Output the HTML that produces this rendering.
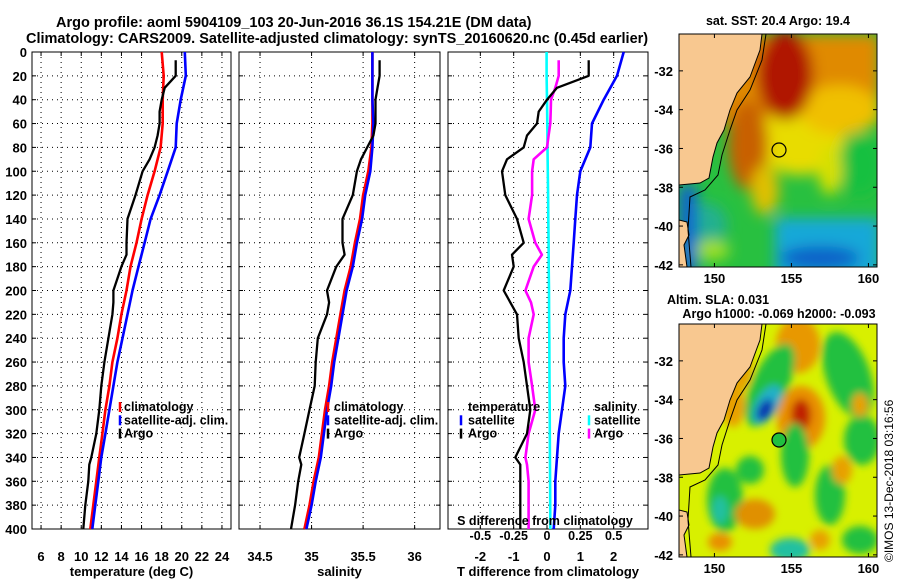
<!DOCTYPE html>
<html><head><meta charset="utf-8"><style>
html,body{margin:0;padding:0;background:#fff;}
svg{display:block;font-family:"Liberation Sans",sans-serif;font-weight:bold;}
</style></head><body>
<svg id="chart" width="900" height="580" viewBox="0 0 900 580" xmlns="http://www.w3.org/2000/svg">
<defs>
<filter id="blur" x="-50%" y="-50%" width="200%" height="200%"><feGaussianBlur stdDeviation="7"/></filter>
<filter id="blur2" x="-50%" y="-50%" width="200%" height="200%"><feGaussianBlur stdDeviation="4"/></filter>
<clipPath id="clipMap1"><rect x="679" y="34" width="198" height="233"/></clipPath>
<clipPath id="clipMap2"><rect x="679" y="324" width="198" height="233"/></clipPath>
</defs>
<text x="56" y="27" font-size="14.5">Argo profile: aoml 5904109_103 20-Jun-2016 36.1S 154.21E (DM data)</text>
<text x="26" y="43" font-size="14.5">Climatology: CARS2009. Satellite-adjusted climatology: synTS_20160620.nc (0.45d earlier)</text>

<g id="panels"></g>

<!-- SST map -->
<g>
<text x="778" y="25" font-size="12.5" text-anchor="middle">sat. SST: 20.4 Argo: 19.4</text>
<g clip-path="url(#clipMap1)">
<rect x="679" y="34" width="198" height="233" fill="#28c040"/>
<g filter="url(#blur)">
<rect x="720" y="34" width="160" height="90" fill="#e08a00"/>
<ellipse cx="800" cy="140" rx="45" ry="35" fill="#e8dc00"/>
<ellipse cx="840" cy="110" rx="40" ry="25" fill="#f0c000"/>
<ellipse cx="785" cy="75" rx="28" ry="45" fill="#b01800"/>
<ellipse cx="748" cy="145" rx="20" ry="45" fill="#c86000"/>
<ellipse cx="765" cy="190" rx="14" ry="25" fill="#e0c000"/>
<ellipse cx="860" cy="165" rx="22" ry="32" fill="#18c040"/>
<ellipse cx="830" cy="170" rx="12" ry="25" fill="#d8e000"/>
<ellipse cx="705" cy="225" rx="22" ry="22" fill="#20b090"/>
<ellipse cx="712" cy="250" rx="18" ry="10" fill="#a0e020"/>
<rect x="775" y="218" width="105" height="60" fill="#18a8d8"/>
<ellipse cx="820" cy="258" rx="40" ry="12" fill="#1060c8"/>
<rect x="679" y="185" width="18" height="90" fill="#1060d0"/>
</g>
<path d="M679,34 L762,34 L760,50 L750,77 L737,93 L730,110 L724,130 L717,143 L713,157 L709,178 L700,183 L679,185 Z" fill="#f8c890" stroke="#000" stroke-width="1"/>
<path d="M679,220 L687,222 L689,235 L684,245 L687,267 L679,267 Z" fill="#f8c890" stroke="#000" stroke-width="1"/>
<path d="M766,34 L762,60 L750,90 L737,110 L730,130 L722,155 L718,175 L705,190 L690,197 L688,230 L691,267" fill="none" stroke="#000" stroke-width="1"/>
<circle cx="779" cy="150" r="7" fill="none" stroke="#000" stroke-width="1.2"/>
</g>
<rect x="679" y="34" width="198" height="233" fill="none" stroke="#000"/>
</g>

<!-- SLA map -->
<g>
<text x="718" y="304" font-size="12.5" text-anchor="middle">Altim. SLA: 0.031</text>
<text x="779" y="318" font-size="12.5" text-anchor="middle">Argo h1000: -0.069 h2000: -0.093</text>
<g clip-path="url(#clipMap2)">
<rect x="679" y="324" width="198" height="233" fill="#d8f000"/>
<g filter="url(#blur2)">
<ellipse cx="798" cy="345" rx="22" ry="28" fill="#e89800"/>
<ellipse cx="770" cy="385" rx="18" ry="45" fill="#20c040" transform="rotate(25 770 385)"/>
<ellipse cx="767" cy="405" rx="11" ry="22" fill="#20b0c8" transform="rotate(30 767 405)"/>
<ellipse cx="765" cy="410" rx="7" ry="12" fill="#1030b0" transform="rotate(30 765 410)"/>
<ellipse cx="801" cy="418" rx="24" ry="32" fill="#e89000"/>
<ellipse cx="801" cy="415" rx="10" ry="16" fill="#c02000"/>
<ellipse cx="848" cy="375" rx="22" ry="45" fill="#20c040" transform="rotate(-20 848 375)"/>
<ellipse cx="862" cy="440" rx="18" ry="25" fill="#20c040"/>
<ellipse cx="860" cy="405" rx="8" ry="12" fill="#e8a000"/>
<ellipse cx="742" cy="365" rx="10" ry="25" fill="#e8a000"/>
<ellipse cx="733" cy="405" rx="12" ry="22" fill="#e8a000"/>
<ellipse cx="725" cy="500" rx="18" ry="32" fill="#20c040"/>
<ellipse cx="720" cy="510" rx="8" ry="14" fill="#20c0a0"/>
<ellipse cx="755" cy="514" rx="20" ry="15" fill="#e09000"/>
<ellipse cx="720" cy="542" rx="12" ry="9" fill="#e89000"/>
<ellipse cx="795" cy="455" rx="14" ry="32" fill="#20c040"/>
<ellipse cx="830" cy="495" rx="15" ry="30" fill="#20c040"/>
<ellipse cx="842" cy="470" rx="10" ry="14" fill="#e8a000"/>
<ellipse cx="790" cy="550" rx="20" ry="12" fill="#20c0a0"/>
<ellipse cx="750" cy="470" rx="14" ry="14" fill="#20c040"/>
<ellipse cx="860" cy="540" rx="18" ry="14" fill="#20c040"/>
<ellipse cx="820" cy="540" rx="10" ry="10" fill="#e8a000"/>
</g>
<path d="M679,324 L762,324 L760,340 L750,367 L737,383 L730,400 L724,420 L717,433 L713,447 L709,468 L700,473 L679,475 Z" fill="#f8c890" stroke="#000" stroke-width="1"/>
<path d="M679,510 L687,512 L689,525 L684,535 L687,557 L679,557 Z" fill="#f8c890" stroke="#000" stroke-width="1"/>
<path d="M766,324 L762,350 L750,380 L737,400 L730,420 L722,445 L718,465 L705,480 L690,487 L688,520 L691,557" fill="none" stroke="#000" stroke-width="1"/>
<circle cx="779" cy="440" r="7" fill="#20c040" stroke="#000" stroke-width="1.2"/>
</g>
<rect x="679" y="324" width="198" height="233" fill="none" stroke="#000"/>
</g>
<g id="mapaxes"></g>
<text transform="translate(893,562) rotate(-90)" font-size="12" font-weight="normal">©IMOS 13-Dec-2018 03:16:56</text>
</svg>
<script>
// depth levels (m)
const depthT = [0,20,40,60,80,100,120,140,160,180,200,220,240,260,280,300,320,340,360,380,400];
const climT = [18.0,18.2,18.1,18.1,17.9,17.3,16.6,16.0,15.5,14.9,14.5,14.0,13.6,13.1,12.8,12.4,12.1,11.8,11.5,11.2,10.9];
const satT  = [20.3,20.4,19.9,19.5,19.4,18.6,17.8,16.9,16.3,15.7,15.1,14.6,14.1,13.6,13.2,12.8,12.4,12.0,11.7,11.4,11.1];
const depthArgo = [7,20,30,40,50,60,70,80,90,100,120,140,160,170,180,200,210,220,240,260,280,300,320,340,346,360,380,400];
const argoT = [19.4,19.4,18.3,18.0,17.8,17.8,17.6,17.3,16.8,16.1,15.4,14.6,14.5,14.5,14.0,13.2,13.2,13.1,12.7,12.3,12.0,11.8,11.5,11.0,10.8,10.7,10.4,10.2];
const climS = [35.59,35.59,35.59,35.59,35.58,35.55,35.50,35.47,35.42,35.38,35.32,35.28,35.24,35.20,35.17,35.13,35.10,35.07,35.02,34.98,34.93];
const satS  = [35.59,35.59,35.59,35.60,35.59,35.57,35.52,35.49,35.44,35.40,35.34,35.30,35.26,35.22,35.19,35.15,35.12,35.09,35.04,35.00,34.95];
const argoS = [35.66,35.66,35.64,35.62,35.62,35.62,35.60,35.54,35.48,35.44,35.40,35.30,35.30,35.32,35.24,35.15,35.17,35.15,35.06,35.04,35.03,34.98,34.93,34.88,34.90,34.87,34.84,34.80];
const satTdiff = [2.3,2.1,1.7,1.35,1.3,1.0,0.9,0.85,0.8,0.75,0.7,0.55,0.5,0.5,0.55,0.45,0.35,0.3,0.25,0.25,0.2];
const argoTdiff = [1.25,1.25,0.3,0.0,-0.25,-0.3,-0.6,-0.7,-1.2,-1.35,-1.25,-0.9,-0.7,-1.05,-1.0,-1.3,-1.1,-0.9,-0.85,-0.7,-0.6,-0.5,-0.6,-0.95,-0.8,-0.8,-0.8,-0.8];
const satSdiff = [-0.003,-0.003,0.0,0.002,0.004,0.006,0.008,0.01,0.012,0.013,0.015,0.016,0.017,0.018,0.019,0.02,0.021,0.022,0.023,0.024,0.025];
const argoSdiff = [0.088,0.088,0.062,0.03,0.028,0.025,0.012,0.0,-0.1,-0.112,-0.112,-0.138,-0.088,-0.038,-0.1,-0.162,-0.12,-0.1,-0.138,-0.138,-0.112,-0.088,-0.138,-0.162,-0.15,-0.138,-0.138,-0.138];
const depthTicks = [0,20,40,60,80,100,120,140,160,180,200,220,240,260,280,300,320,340,360,380,400];
const tempTicks = [6,8,10,12,14,16,18,20,22,24];
const salTicks = [34.5,35,35.5,36];
const tdiffTicks = [-2,-1,0,1,2];
const sdiffTicks = [-0.5,-0.25,0,0.25,0.5];
const latTicks = [-32,-34,-36,-38,-40,-42];
const lonTicks = [150,155,160];

const NS='http://www.w3.org/2000/svg';
const root=document.getElementById('panels');
const PT=52,PB=529;
const y=d=>PT+(d/400)*(PB-PT);
function mk(tag,attrs,parent){const e=document.createElementNS(NS,tag);for(const k in attrs)e.setAttribute(k,attrs[k]);(parent||root).appendChild(e);return e;}
function txt(s,x,yy,anchor,size,parent){const t=mk('text',{x:x,y:yy,'text-anchor':anchor,'font-size':size},parent);t.textContent=s;return t;}

const panels=[
 {name:'temperature',x0:32,x1:231,v0:5.1,v1:24.9,ticks:tempTicks,title:'temperature (deg C)'},
 {name:'salinity',x0:239,x1:440,v0:34.296,v1:36.246,ticks:salTicks,title:'salinity'},
 {name:'difference',x0:448,x1:648,v0:-2.97,v1:3.03,ticks:tdiffTicks,title:'T difference from climatology'}
];
panels.forEach(p=>{p.sx=v=>p.x0+(v-p.v0)/(p.v1-p.v0)*(p.x1-p.x0);});
const [P1,P2,P3]=panels;
const sxS=v=>P3.sx(v*4);

panels.forEach((p,i)=>{
 const g=mk('g',{});
 
 
 depthTicks.forEach(d=>{
  if(d>0&&d<400){const l=mk('line',{x1:p.x0,x2:p.x1,y1:y(d),y2:y(d),stroke:'#000','stroke-width':1,'stroke-dasharray':'1 4'},g);
   }
  mk('line',{x1:p.x0,x2:p.x0+4,y1:y(d),y2:y(d),stroke:'#000'},g);
  mk('line',{x1:p.x1-4,x2:p.x1,y1:y(d),y2:y(d),stroke:'#000'},g);
  if(i===0){const t=txt(String(d),27,y(d)+5,'end',13,g);}
 });
 p.ticks.forEach(v=>{
  const X=p.sx(v);
  const l=mk('line',{x1:X,x2:X,y1:PT,y2:PB,stroke:'#000','stroke-dasharray':'1 4'},g);
  
  mk('line',{x1:X,x2:X,y1:PB-4,y2:PB,stroke:'#000'},g);
  mk('line',{x1:X,x2:X,y1:PT,y2:PT+4,stroke:'#000'},g);
  const t=txt(String(v),X,561,'middle',13,g);
  
 });
 const tt=txt(p.title,(p.x0+p.x1)/2,576,'middle',13,g);
 
 const fr=mk('rect',{x:p.x0,y:PT,width:p.x1-p.x0,height:PB-PT,fill:'none',stroke:'#000','stroke-width':1},g);
 
});

function line(xs,ds,sx,color,w,name){
 const pts=xs.map((v,i)=>sx(v).toFixed(1)+','+y(ds[i]).toFixed(1)).join(' ');
 const l=mk('polyline',{points:pts,fill:'none',stroke:color,'stroke-width':w,'stroke-linejoin':'round'});
 
 
}
line(climT,depthT,P1.sx,'#ff0000',2.6,'climatology-temperature-line');
line(satT,depthT,P1.sx,'#0000ff',2.6,'satellite-temperature-line');
line(argoT,depthArgo,P1.sx,'#000',2.3,'argo-temperature-line');
line(climS,depthT,P2.sx,'#ff0000',2.6,'climatology-salinity-line');
line(satS,depthT,P2.sx,'#0000ff',2.6,'satellite-salinity-line');
line(argoS,depthArgo,P2.sx,'#000',2.3,'argo-salinity-line');
line(satSdiff,depthT,sxS,'#00ffff',2.6,'satellite-salinity-diff-line');
line(argoSdiff,depthArgo,sxS,'#ff00ff',2.6,'argo-salinity-diff-line');
line(satTdiff,depthT,P3.sx,'#0000ff',2.6,'satellite-temperature-diff-line');
line(argoTdiff,depthArgo,P3.sx,'#000',2.3,'argo-temperature-diff-line');

const sdt=txt('S difference from climatology',545,525,'middle',12.5);

sdiffTicks.forEach(v=>{const t=txt(String(v),sxS(v),540,'middle',12.5);
 });

function legend(items,mx,tx,y0){
 items.forEach((it,i)=>{
  const yy=y0+i*13.3;
  if(it[1]){const m=mk('line',{x1:mx,x2:mx,y1:yy-9,y2:yy+1,stroke:it[1],'stroke-width':2.5});
   }
  const t=txt(it[0],tx,yy,'start',12.5);
  
 });
}
legend([['climatology','#ff0000'],['satellite-adj. clim.','#0000ff'],['Argo','#000']],120,124,411);
legend([['climatology','#ff0000'],['satellite-adj. clim.','#0000ff'],['Argo','#000']],328,334,411);
legend([['temperature',null],['satellite','#0000ff'],['Argo','#000']],461,468,411);
legend([['salinity',null],['satellite','#00ffff'],['Argo','#ff00ff']],589,594,411);

const ma=document.getElementById('mapaxes');
const mapX=lon=>679+(lon-147.7)*15.4;
[[34,283],[324,573]].forEach(([top,lonY],mi)=>{
 const mapY=lat=>top+(-30.1-lat)*19.4;
 latTicks.forEach(lat=>{
  const Y=mapY(lat);
  mk('line',{x1:679,x2:683,y1:Y,y2:Y,stroke:'#000'},ma);
  mk('line',{x1:873,x2:877,y1:Y,y2:Y,stroke:'#000'},ma);
  const t=txt(String(lat),673,Y+5,'end',13,ma);
  
 });
 lonTicks.forEach(lon=>{
  const X=mapX(lon);
  mk('line',{x1:X,x2:X,y1:top+229,y2:top+233,stroke:'#000'},ma);
  mk('line',{x1:X,x2:X,y1:top,y2:top+4,stroke:'#000'},ma);
  const t=txt(String(lon),X,lonY,'middle',13,ma);
  
 });
});
</script>
</body></html>
